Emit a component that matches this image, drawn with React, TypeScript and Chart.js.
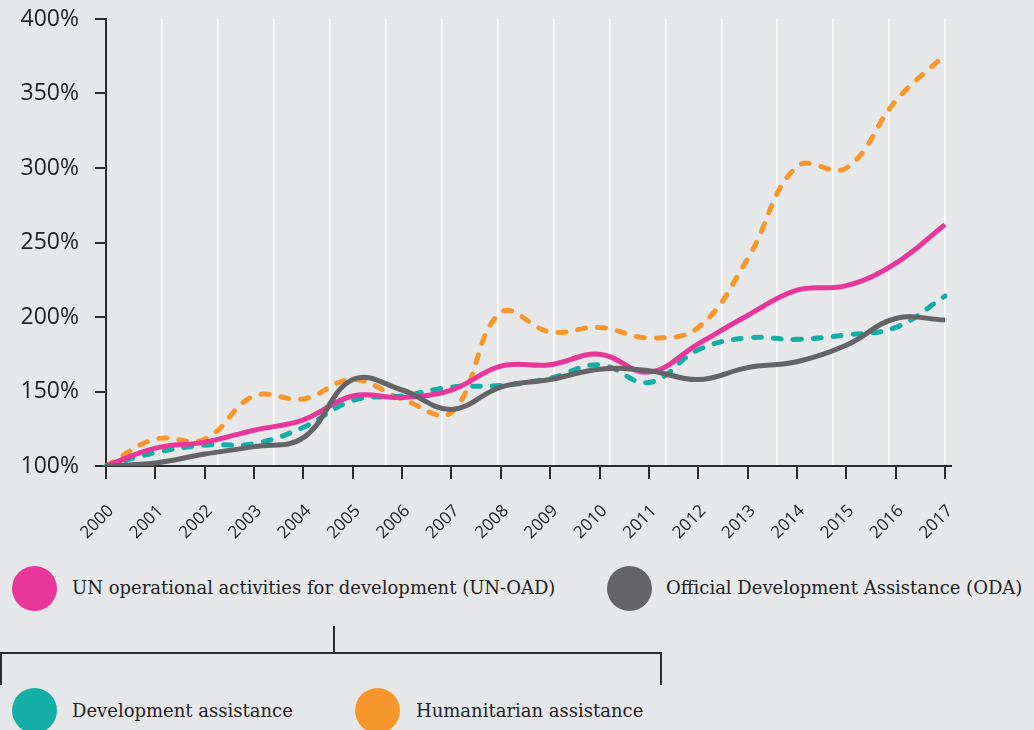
import React, { useEffect, useRef } from "react";
import { Chart, registerables } from "chart.js";

Chart.register(...registerables);

const years = ["2000","2001","2002","2003","2004","2005","2006","2007","2008","2009","2010","2011","2012","2013","2014","2015","2016","2017"];
const unOad = [100, 112, 116, 124, 131, 147, 146, 151, 167, 168, 175, 163, 182, 201, 218, 221, 236, 262];
const oda = [100, 102, 108, 113, 119, 158, 151, 138, 153, 158, 165, 164, 158, 166, 170, 181, 199, 198];
const devAssist = [100, 109, 114, 115, 126, 144, 147, 153, 154, 159, 168, 156, 178, 186, 185, 188, 193, 214];
const humAssist = [100, 118, 118, 147, 145, 158, 145, 136, 203, 190, 193, 186, 193, 239, 301, 300, 345, 376];
const yTicks = [100, 150, 200, 250, 300, 350, 400];

const BG = "#e6e7e8";
const AXIS = "#2b2b2b";
const PINK = "#e8369a";
const GRAY = "#646466";
const TEAL = "#14aea7";
const ORANGE = "#f7962c";
const SERIF = "'DejaVu Serif', 'Liberation Serif', serif";
const SANS = "'Open Sans', 'Noto Sans', sans-serif";

const xAxisLine = {
  id: "xAxisLine",
  beforeDatasetsDraw(chart: any) {
    const { ctx, chartArea } = chart;
    ctx.save();
    ctx.strokeStyle = AXIS;
    ctx.lineWidth = 2;
    ctx.beginPath();
    ctx.moveTo(chartArea.left - 1, chartArea.bottom);
    ctx.lineTo(chartArea.right + 7, chartArea.bottom);
    ctx.stroke();
    ctx.restore();
  },
};

const zeroPad = (s: any) => {
  s.paddingTop = 0;
  s.paddingBottom = 0;
  s.paddingLeft = 0;
  s.paddingRight = 0;
};

function ChartCanvas() {
  const ref = useRef<HTMLCanvasElement>(null);
  useEffect(() => {
    if (!ref.current) return;
    const line = (label: string, data: number[], color: string, dashed: boolean) => ({
      label,
      data,
      borderColor: color,
      backgroundColor: color,
      borderWidth: 5,
      borderDash: dashed ? [8, 12] : [],
      borderCapStyle: dashed ? "round" : "butt",
      pointRadius: 0,
      tension: 0.4,
      fill: false,
    });
    const chart = new Chart(ref.current, {
      type: "line",
      data: {
        labels: years,
        datasets: [
          line("Official Development Assistance (ODA)", oda, GRAY, false),
          line("UN operational activities for development (UN-OAD)", unOad, PINK, false),
          line("Development assistance", devAssist, TEAL, true),
          line("Humanitarian assistance", humAssist, ORANGE, true),
        ] as any,
      },
      options: {
        animation: false,
        responsive: false,
        maintainAspectRatio: false,
        layout: { padding: { left: 0, right: 89, top: 19, bottom: 0 } },
        plugins: { legend: { display: false }, tooltip: { enabled: false } },
        scales: {
          x: {
            type: "category",
            position: "bottom",
            offset: false,
            border: { display: false },
            grid: {
              drawOnChartArea: false,
              drawTicks: true,
              tickLength: 13,
              color: AXIS,
              lineWidth: 2,
            },
            ticks: {
              autoSkip: false,
              minRotation: 45,
              maxRotation: 45,
              padding: 22,
              labelOffset: 5,
              color: "#222",
              font: { family: SANS, size: 17 },
            },
            afterFit: (s: any) => { s.height = 74; zeroPad(s); },
          },
          x2: {
            type: "linear",
            position: "top",
            min: 0,
            max: 15,
            border: { display: false },
            grid: { drawOnChartArea: true, drawTicks: false, color: "#ffffff", lineWidth: 1.5 },
            ticks: { display: false, stepSize: 1 },
            afterFit: (s: any) => { s.height = 0; zeroPad(s); },
          },
          y: {
            type: "linear",
            min: 100,
            max: 400,
            border: { display: true, color: AXIS, width: 2 },
            grid: { drawOnChartArea: false, drawTicks: true, tickLength: 11, color: AXIS, lineWidth: 2 },
            afterBuildTicks: (s: any) => { s.ticks = yTicks.map((v) => ({ value: v })); },
            ticks: {
              padding: 16,
              color: "#222",
              font: { family: SANS, size: 23 },
              callback: (v: any) => v + "%",
            },
            afterFit: (s: any) => { s.width = 106; zeroPad(s); },
          },
        },
      } as any,
      plugins: [xAxisLine],
    });
    return () => chart.destroy();
  }, []);
  return <canvas ref={ref} width={1034} height={540} style={{ position: "absolute", left: 0, top: 0, width: 1034, height: 540 }} />;
}

const dot = (left: number, top: number, color: string) => (
  <div style={{ position: "absolute", left, top, width: 45, height: 45, borderRadius: "50%", background: color }} />
);
const txt = (left: number, centerY: number, s: string) => (
  <div style={{ position: "absolute", left, top: centerY - 14, height: 28, lineHeight: "28px", fontFamily: SERIF, fontSize: 18, color: "#222", whiteSpace: "nowrap" }}>{s}</div>
);
const bar = (left: number, top: number, width: number, height: number) => (
  <div style={{ position: "absolute", left, top, width, height, background: AXIS }} />
);

export default function App() {
  return (
    <div style={{ position: "fixed", left: 0, top: 0, width: 1034, height: 730, background: BG, overflow: "hidden" }}>
      <ChartCanvas />
      {dot(12, 566, PINK)}
      {txt(72, 588, "UN operational activities for development (UN-OAD)")}
      {dot(607, 566, GRAY)}
      {txt(666, 588, "Official Development Assistance (ODA)")}
      {bar(333, 626, 1.5, 27)}
      {bar(0, 652, 662, 1.5)}
      {bar(0, 652, 1.5, 33)}
      {bar(660, 652, 1.5, 33)}
      {dot(12, 688, TEAL)}
      {txt(72, 711, "Development assistance")}
      {dot(355, 688, ORANGE)}
      {txt(416, 711, "Humanitarian assistance")}
    </div>
  );
}
